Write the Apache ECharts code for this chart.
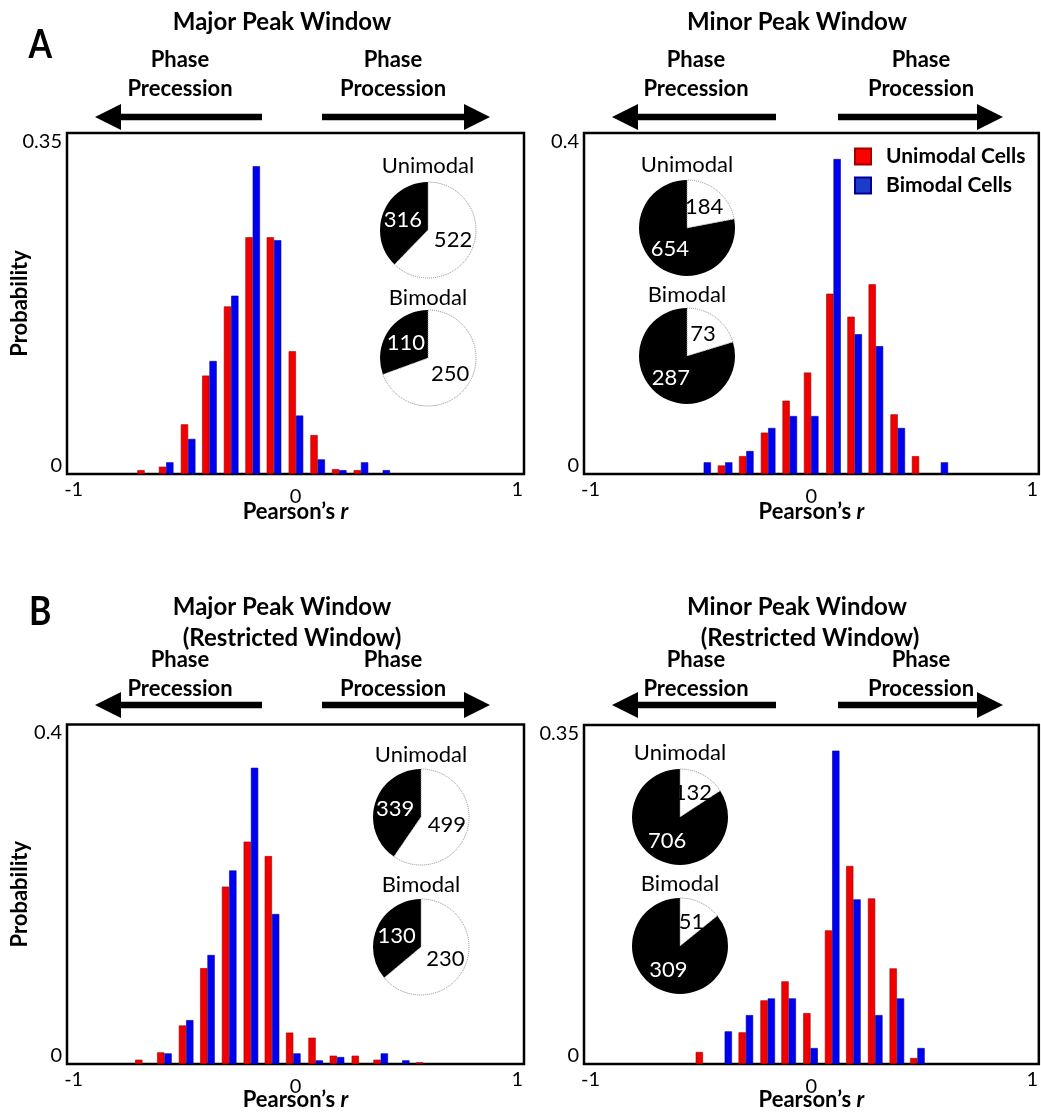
<!DOCTYPE html>
<html><head><meta charset="utf-8">
<script src="https://cdn.jsdelivr.net/npm/echarts@6/dist/echarts.min.js"></script>
<style>html,body{margin:0;padding:0;background:#fff}#c{width:1041px;height:1112px}</style>
</head><body><div id="c"></div>
<script>
// ---------- data ----------
const xTicks = [-1, 0, 1];
// Panel A, Major Peak Window
const binsA1 = [-0.680, -0.583, -0.484, -0.388, -0.290, -0.193, -0.097, 0.002, 0.100, 0.197, 0.295, 0.393];
const redA1  = [0.004, 0.0075, 0.051, 0.101, 0.172, 0.243, 0.243, 0.126, 0.040, 0.005, 0.004, 0];
const blueA1 = [0, 0.012, 0.036, 0.116, 0.183, 0.316, 0.240, 0.060, 0.015, 0.004, 0.012, 0.004];
// Panel A, Minor Peak Window
const binsA2 = [-0.488, -0.391, -0.295, -0.196, -0.098, -0.001, 0.100, 0.196, 0.292, 0.391, 0.488, 0.586];
const redA2  = [0, 0.010, 0.021, 0.0485, 0.086, 0.119, 0.2115, 0.1845, 0.2225, 0.070, 0.021, 0];
const blueA2 = [0.0137, 0.0137, 0.027, 0.054, 0.068, 0.068, 0.3695, 0.164, 0.150, 0.054, 0, 0.0137];
// Panel B, Major Peak Window (Restricted)
const binsB1 = [-0.690, -0.591, -0.493, -0.397, -0.299, -0.201, -0.106, -0.010, 0.091, 0.187, 0.286, 0.384, 0.481, 0.576];
const redB1  = [0.0051, 0.0137, 0.0454, 0.113, 0.209, 0.262, 0.245, 0.037, 0.031, 0.0098, 0.0098, 0.0051, 0, 0.002];
const blueB1 = [0, 0.0125, 0.0517, 0.1285, 0.228, 0.349, 0.1767, 0.0125, 0.0043, 0.0082, 0, 0.0125, 0.0043, 0];
// Panel B, Minor Peak Window (Restricted)
const binsB2 = [-0.491, -0.393, -0.297, -0.198, -0.103, -0.004, 0.094, 0.190, 0.289, 0.387, 0.480];
const redB2  = [0.0124, 0, 0.0327, 0.0657, 0.0853, 0.0526, 0.138, 0.2045, 0.171, 0.0987, 0.0062];
const blueB2 = [0, 0.0337, 0.0505, 0.0677, 0.0677, 0.0165, 0.3235, 0.170, 0.0505, 0.0677, 0.0165];
// y-axis maxima / tick labels
const yMax = [0.35, 0.4, 0.4, 0.35];
// pie counts [phase precession (black), phase procession (white)]
const pieUniA1 = [316, 522], pieBiA1 = [110, 250];
const pieUniA2 = [654, 184], pieBiA2 = [287, 73];
const pieUniB1 = [339, 499], pieBiB1 = [130, 230];
const pieUniB2 = [706, 132], pieBiB2 = [309, 51];
const seriesNames = ['Unimodal Cells', 'Bimodal Cells'];
const pieTitles = ['Unimodal', 'Bimodal'];

// ---------- layout ----------
const F = 'Lato';
const grids = [
  {left: 67, top: 133, width: 457, height: 341},
  {left: 584, top: 133, width: 456, height: 341},
  {left: 67, top: 724.5, width: 457, height: 340},
  {left: 584, top: 725, width: 456, height: 339.5}
];
const nameGaps = [27, 27, 25, 25];
const binsAll = [binsA1, binsA2, binsB1, binsB2];
const redAll = [redA1, redA2, redB1, redB2];
const blueAll = [blueA1, blueA2, blueB1, blueB2];
const piesAll = [[pieUniA1, pieBiA1], [pieUniA2, pieBiA2], [pieUniB1, pieBiB1], [pieUniB2, pieBiB2]];
const pieCenters = [[[428, 230], [428, 358]], [[687, 228], [687, 356]], [[421, 817], [421, 947]], [[680, 817], [680, 946]]];
const pieTitleY = [[166, 298], [165, 295], [755, 885], [753, 884]];

const xAxis = [], yAxis = [], series = [];
grids.forEach((g, i) => {
  g.show = true; g.borderColor = '#000'; g.borderWidth = 2.5; g.containLabel = false;
  xAxis.push({
    type: 'value', gridIndex: i, min: -1.03, max: 1.03,
    axisLine: {show: false}, axisTick: {show: false}, splitLine: {show: false},
    axisLabel: {customValues: xTicks, fontFamily: F, fontSize: 20, color: '#000', margin: 6,
      formatter: v => v === 0 ? '{z|0}' : String(v),
      rich: {z: {fontFamily: F, fontSize: 20, color: '#000', padding: [7, 0, 0, 0]}}},
    name: '{b|Pearson\u2019s }{i|r}', nameLocation: 'middle', nameGap: nameGaps[i], nameMoveOverlap: false,
    nameTextStyle: {rich: {b: {fontFamily: F, fontWeight: 'bold', fontSize: 22, color: '#000'},
                           i: {fontFamily: F, fontWeight: 'bold', fontStyle: 'italic', fontSize: 22, color: '#000'}}}
  });
  yAxis.push({
    type: 'value', gridIndex: i, min: 0, max: yMax[i],
    axisLine: {show: false}, axisTick: {show: false}, splitLine: {show: false},
    axisLabel: {customValues: [0, yMax[i]], fontFamily: F, fontSize: 20, color: '#000', margin: 5, lineHeight: 17,
      formatter: v => v === 0 ? '0\n ' : '\n' + v},
    name: (i % 2 === 0) ? 'Probability' : '', nameLocation: 'middle', nameGap: 36, nameRotate: 90, nameMoveOverlap: false,
    nameTextStyle: {fontFamily: F, fontWeight: 'bold', fontSize: 22, color: '#000'}
  });
  const mk = arr => binsAll[i].map((b, k) => [b, arr[k]]).filter(d => d[1] > 0);
  series.push({type: 'bar', name: seriesNames[0], xAxisIndex: i, yAxisIndex: i, barWidth: 7.3, barGap: '0%',
    data: mk(redAll[i]), itemStyle: {color: '#f00000', borderColor: '#a00000', borderWidth: 0.6}, silent: true});
  series.push({type: 'bar', name: seriesNames[1], xAxisIndex: i, yAxisIndex: i, barWidth: 7.3, barGap: '0%',
    data: mk(blueAll[i]), itemStyle: {color: '#0000f0', borderColor: '#000099', borderWidth: 0.6}, silent: true});
  piesAll[i].forEach((p, j) => {
    series.push({type: 'pie', name: pieTitles[j] + i, radius: 48, center: pieCenters[i][j],
      clockwise: false, startAngle: 90, silent: true, animation: false,
      label: {position: 'inside', fontFamily: F, fontSize: 22, formatter: '{c}'},
      labelLine: {show: false},
      data: [
        {value: p[0], name: 'precession', itemStyle: {color: '#000'}, label: {color: '#fff'}},
        {value: p[1], name: 'procession', itemStyle: {color: '#fff', borderColor: '#888', borderType: 'dotted', borderWidth: 1}, label: {color: '#000'}}
      ],
      emphasis: {disabled: true}
    });
  });
});

// ---------- graphic decorations ----------
const graphic = [];
function txt(x, y, s, size, weight, extra) {
  graphic.push(Object.assign({type: 'text', x: x, y: y, style: {text: s, font: (weight || 'normal') + ' ' + size + 'px ' + F,
    fill: '#000', align: 'center', verticalAlign: 'middle'}}, extra || {}));
}
function arrow(x1, x2, y) { // x1 = tail, x2 = tip
  const d = x2 > x1 ? 1 : -1, hl = 26, hh = 13, sw = 3.3;
  const hb = x2 - d * hl;
  graphic.push({type: 'polygon', shape: {points: [[x2, y], [hb, y - hh], [hb, y - sw], [x1, y - sw], [x1, y + sw], [hb, y + sw], [hb, y + hh]]},
    style: {fill: '#000'}});
}
txt(35, 45, 'A', 40, 'bold', {scaleX: 0.85, originX: 35});
txt(35, 612, 'B', 40, 'bold', {scaleX: 0.85, originX: 35});
txt(282, 22, 'Major Peak Window', 24, 'bold');
txt(797, 22, 'Minor Peak Window', 24, 'bold');
txt(282, 607, 'Major Peak Window', 24, 'bold');
txt(292, 638, '(Restricted Window)', 24, 'bold');
txt(797, 607, 'Minor Peak Window', 24, 'bold');
txt(810, 638, '(Restricted Window)', 24, 'bold');
[[60, 89, 117], [660, 689, 705]].forEach(r => {
  [[180, 393, 95, 262, 322, 490], [696, 921, 612, 776, 838, 1003]].forEach(c => {
    txt(c[0], r[0], 'Phase', 22, 'bold');
    txt(c[0], r[1], 'Precession', 22, 'bold');
    txt(c[1], r[0], 'Phase', 22, 'bold');
    txt(c[1], r[1], 'Procession', 22, 'bold');
    arrow(c[3], c[2], r[2]);
    arrow(c[4], c[5], r[2]);
  });
});
pieCenters.forEach((pc, i) => {
  pc.forEach((c, j) => txt(c[0], pieTitleY[i][j], pieTitles[j], 22, 'normal'));
});

const chart = echarts.init(document.getElementById('c'), null, {renderer: 'canvas'});
chart.setOption({
  animation: false,
  textStyle: {fontFamily: F},
  grid: grids, xAxis: xAxis, yAxis: yAxis, series: series, graphic: graphic,
  legend: {
    data: [{name: seriesNames[0], itemStyle: {color: '#ff0000'}}, {name: seriesNames[1], itemStyle: {color: '#1a3cc8'}}],
    orient: 'vertical', left: 849, top: 141, icon: 'rect', itemWidth: 16, itemHeight: 16, itemGap: 8,
    selectedMode: false,
    textStyle: {fontFamily: F, fontWeight: 'bold', fontSize: 21, lineHeight: 16, color: '#000', padding: [0, 0, 0, 10]}
  }
});
</script></body></html>
